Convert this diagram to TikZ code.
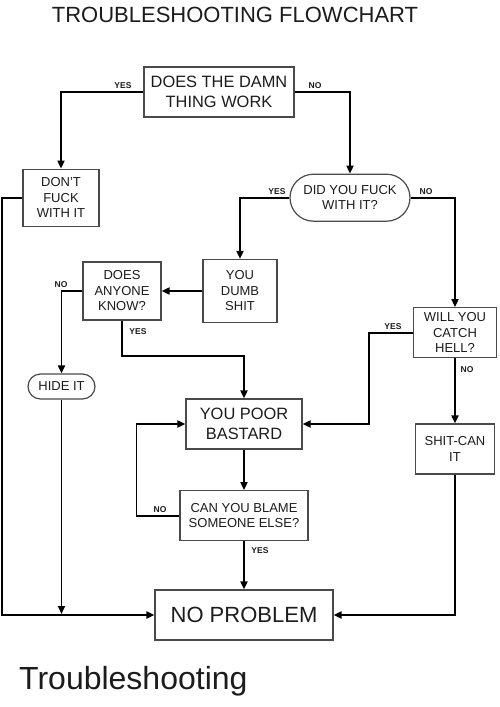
\documentclass[tikz,border=0pt]{standalone}
\usepackage{fontspec}
\setmainfont{Liberation Sans}
\usetikzlibrary{arrows.meta,shapes.misc}
\definecolor{boxc}{HTML}{4A4A4A}
\definecolor{txt}{HTML}{1C1C1C}
\begin{document}
\begin{tikzpicture}[x=1pt,y=-1pt,
 box/.style={draw=boxc,line width=1.2pt,rectangle,align=center,inner sep=0pt,text=txt},
 pill/.style={draw=boxc,line width=1.2pt,rounded rectangle,align=center,inner sep=0pt,text=txt},
 conn/.style={line width=1.8pt,-{Triangle[length=8pt,width=7pt]}},
 lbl/.style={font=\bfseries\fontsize{8.5}{10}\selectfont,inner sep=0pt,text=txt},
 mid/.style={font=\fontsize{13}{15.5}\selectfont},
 big/.style={font=\fontsize{16.4}{19.4}\selectfont}]
\fill[white] (0,0) rectangle (500,707);
\useasboundingbox (0,0) rectangle (500,707);

\node[text=txt,font=\fontsize{22}{26}\selectfont,inner sep=0pt] (title) at (235,15) {TROUBLESHOOTING FLOWCHART};

\node[box,big,minimum width=150,minimum height=50] (b1) at (219,92) {DOES THE DAMN\\THING WORK};
\node[box,mid,minimum width=76,minimum height=57] (dont) at (61,197.7) {DON'T\\FUCK\\WITH IT};
\node[pill,mid,minimum width=120,minimum height=47] (dyf) at (350,197.7) {DID YOU FUCK\\WITH IT?};
\node[box,mid,minimum width=78,minimum height=58] (dak) at (122,291) {DOES\\ANYONE\\KNOW?};
\node[box,mid,minimum width=74,minimum height=63] (dumb) at (240,291) {YOU\\DUMB\\SHIT};
\node[box,mid,minimum width=83,minimum height=50] (wych) at (455,332.7) {WILL YOU\\CATCH\\HELL?};
\node[pill,mid,minimum width=67,minimum height=25] (hide) at (61.5,386.5) {HIDE IT};
\node[box,big,minimum width=116,minimum height=50] (ypb) at (244,424) {YOU POOR\\BASTARD};
\node[box,mid,minimum width=79,minimum height=50] (sci) at (455,449) {SHIT-CAN\\IT};
\node[box,mid,minimum width=128,minimum height=50] (cyb) at (244,515.7) {CAN YOU BLAME\\SOMEONE ELSE?};
\node[box,font=\fontsize{22}{26}\selectfont,minimum width=178,minimum height=50] (np) at (244,615) {NO PROBLEM};

\node[text=txt,font=\fontsize{32}{38}\selectfont,inner sep=0pt,anchor=base west] (foot) at (19,689) {Troubleshooting};

\coordinate (lft) at (2,615);
\coordinate (hend) at (61.5,614);

\draw[conn] (b1.west) -| (dont.north);
\draw[conn] (b1.east) -| (dyf.north);
\draw[conn] (dont.west) -| (lft) -- (np.west);
\draw[conn] (dyf.west) -| (dumb.north);
\draw[conn] (dyf.east) -| (wych.north);
\draw[conn] (dumb.west) -- (dak.east);
\draw[conn] (dak.west) -| (hide.north);
\draw[conn] (dak.south) -- ++(0,35) -| (ypb.north);
\draw[conn] (wych.west) -- ++(-44,0) |- (ypb.east);
\draw[conn] (wych.south) -- (sci.north);
\draw[conn] (ypb.south) -- (cyb.north);
\draw[conn] (cyb.west) -- ++(-43,0) |- (ypb.west);
\draw[conn] (cyb.south) -- (np.north);
\draw[conn] (sci.south) |- (np.east);
\draw[conn] (hide.south) -- (hend);

\node[lbl] (l1) at (123,86) {YES};
\node[lbl] (l2) at (315,86) {NO};
\node[lbl] (l3) at (277,191.7) {YES};
\node[lbl] (l4) at (426,191.7) {NO};
\node[lbl] (l5) at (61,285) {NO};
\node[lbl] (l6) at (138,331.7) {YES};
\node[lbl] (l7) at (393,326.7) {YES};
\node[lbl] (l8) at (467,370) {NO};
\node[lbl] (l9) at (160,509.3) {NO};
\node[lbl] (l10) at (260,551) {YES};
\end{tikzpicture}
\end{document}
